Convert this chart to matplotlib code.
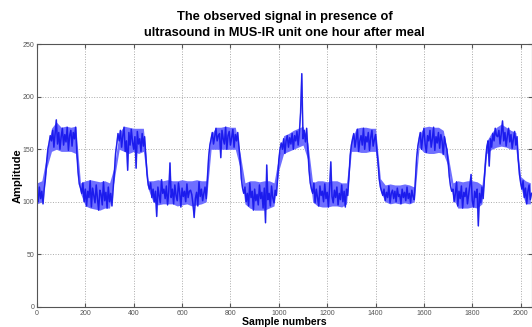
import matplotlib
matplotlib.use('Agg')
import matplotlib.pyplot as plt
import numpy as np

# sample step between the read-off points
step = 5

# amplitude, one value every 5 samples (0 .. 2045)
amplitude = [
    # low 0..30, rise 35..55
    108, 100, 114, 103, 110, 98, 112,
    122, 138, 150, 156, 163,
    # high 60..160, fall 165..180
    158, 168, 152, 165, 178, 155, 166, 150, 162, 170,
    154, 164, 157, 171, 149, 163, 168, 153, 166, 160, 171,
    146, 128, 117, 113,
    # low 185..310, rise 315..340
    108, 118, 100, 112, 96, 110, 104, 120, 95, 113,
    106, 99, 116, 103, 92, 111, 107, 97, 119, 101,
    109, 94, 114, 100, 108, 96,
    112, 128, 146, 155, 165, 158,
    # high 345..445, fall 450..465
    168, 152, 163, 171, 148, 158, 130, 166, 154, 169,
    157, 150, 162, 132, 167, 155, 160, 148, 165, 153, 162,
    144, 126, 116, 112,
    # low 470..700, rise 705..720
    118, 104, 112, 100, 110, 86, 114, 106, 99, 121,
    108, 112, 103, 115, 97, 110, 137, 104, 112, 98,
    116, 106, 101, 118, 109, 95, 113, 105, 110, 100,
    117, 104, 110, 111, 107, 98, 85, 103, 109, 96,
    119, 105, 112, 101, 108, 114, 103,
    124, 143, 154, 160,
    # high 725..835, fall 840..855
    166, 155, 162, 170, 158, 163, 165, 142, 168, 160,
    155, 171, 150, 163, 167, 154, 161, 169, 152, 164,
    158, 166, 153,
    140, 122, 113, 108,
    # low 860..990, rise 995..1010
    114, 100, 108, 96, 118, 104, 110, 92, 112, 101,
    107, 97, 116, 103, 109, 94, 113, 80, 135, 102,
    108, 96, 115, 104, 99, 111, 106,
    122, 140, 150, 156,
    # high 1015..1115, fall 1120..1135
    150, 160, 146, 158, 163, 152, 161, 155, 165, 150,
    163, 158, 167, 154, 166, 185, 222, 160, 168, 157, 170,
    150, 130, 118, 112,
    # low 1140..1285, rise 1290..1305
    108, 118, 99, 112, 104, 96, 115, 106, 110, 100,
    117, 103, 109, 95, 113, 138, 105, 99, 111, 104,
    114, 97, 108, 102, 116, 100, 110, 95, 112, 106,
    124, 144, 154, 160,
    # high 1310..1405, fall 1410..1425
    165, 152, 160, 169, 148, 158, 163, 154, 170, 150,
    162, 157, 166, 149, 161, 168, 153, 159, 164, 150,
    138, 122, 114, 110,
    # low 1430..1560, rise 1565..1580
    106, 112, 101, 109, 104, 115, 99, 108, 111, 103,
    110, 100, 113, 105, 107, 98, 112, 104, 109, 101,
    114, 103, 108, 99, 111, 105, 102,
    122, 142, 153, 160,
    # high 1585..1695, fall 1700..1715
    166, 150, 161, 170, 155, 147, 163, 158, 168, 152,
    160, 171, 149, 162, 156, 166, 151, 164, 158, 145,
    162, 155, 150,
    138, 124, 115, 110,
    # low 1720..1845, rise 1850..1865
    112, 100, 108, 119, 96, 110, 103, 115, 94, 109,
    105, 113, 98, 107, 116, 126, 101, 95, 110, 104,
    112, 77, 108, 99, 114, 103,
    122, 140, 152, 158,
    # high 1870..1985, fall 1990..2005
    134, 160, 152, 165, 158, 170, 163, 162, 168, 155,
    165, 177, 158, 166, 153, 163, 170, 157, 164, 151,
    160, 167, 154, 162,
    140, 126, 118, 112,
    # low 2010..2045
    120, 104, 113, 98, 110, 116, 102, 108,
]

# noise envelope (lower / upper edge of the light band), every 20 samples
env_step = 20
band_low = [
    98, 100, 132, 148, 150, 148, 148, 148, 146, 108,
    96, 94, 93, 92, 94, 94, 122, 150, 148, 146,
    148, 146, 148, 112, 100, 97, 98, 98, 98, 96,
    97, 98, 96, 97, 98, 100, 150, 150, 150, 150,
    150, 150, 132, 98, 94, 92, 92, 92, 94, 96,
    130, 146, 148, 150, 152, 154, 140, 100, 96, 95,
    95, 96, 96, 95, 98, 148, 148, 147, 147, 148,
    148, 110, 100, 98, 99, 98, 99, 98, 100, 152,
    147, 146, 146, 147, 146, 134, 104, 94, 94, 94,
    95, 94, 98, 146, 150, 152, 153, 152, 150, 150,
    114, 98, 98,
]
band_high = [
    118, 120, 144, 170, 176, 171, 172, 171, 172, 118,
    120, 121, 120, 119, 120, 118, 134, 166, 172, 171,
    170, 170, 170, 120, 120, 121, 120, 121, 120, 120,
    121, 120, 120, 121, 120, 120, 164, 171, 171, 172,
    171, 171, 146, 118, 120, 120, 119, 120, 120, 118,
    144, 163, 165, 168, 170, 172, 156, 118, 120, 120,
    119, 120, 120, 118, 118, 158, 170, 171, 171, 170,
    170, 122, 116, 117, 116, 116, 117, 116, 114, 164,
    171, 172, 171, 171, 168, 144, 118, 120, 119, 120,
    120, 119, 116, 158, 166, 171, 174, 171, 168, 166,
    124, 120, 118,
]

xticks = [0, 200, 400, 600, 800, 1000, 1200, 1400, 1600, 1800, 2000]
yticks = [0, 50, 100, 150, 200, 250]

samples = np.arange(len(amplitude)) * step
env_samples = np.arange(len(band_low)) * env_step

plt.rcParams['font.family'] = ['Liberation Sans', 'DejaVu Sans']

fig = plt.figure(figsize=(5.32, 3.27), dpi=100)
ax = fig.add_axes([0.0695, 0.062, 0.931, 0.8025])

# light band for the noise spread, dark trace for the core
ax.fill_between(env_samples, band_low, band_high, color='#6f6fff', lw=0)
ax.plot(samples, amplitude, color='#5a5aff', lw=0.8, alpha=0.9)
ax.plot(samples, amplitude, color='#0000e6', lw=1.1, alpha=0.7)

ax.set_xlim(0, 2048)
ax.set_ylim(0, 250)
ax.set_xticks(xticks)
ax.set_yticks(yticks)
ax.tick_params(direction='in', length=3, labelsize=5, colors='#555555',
               top=True, right=True, pad=2)
ax.grid(True, linestyle=':', color='#aaaaaa', lw=0.7)
ax.set_axisbelow(True)
for s in ax.spines.values():
    s.set_color('#555555')
    s.set_linewidth(0.8)

ax.set_title('The observed signal in presence of\nultrasound in MUS-IR unit one hour after meal',
             fontsize=9.3, fontweight='bold', pad=6, linespacing=1.4)
ax.set_xlabel('Sample numbers', fontsize=7.6, fontweight='bold', labelpad=0)
ax.set_ylabel('Amplitude', fontsize=8, fontweight='bold', labelpad=0)

plt.savefig('out.png', dpi=100)
